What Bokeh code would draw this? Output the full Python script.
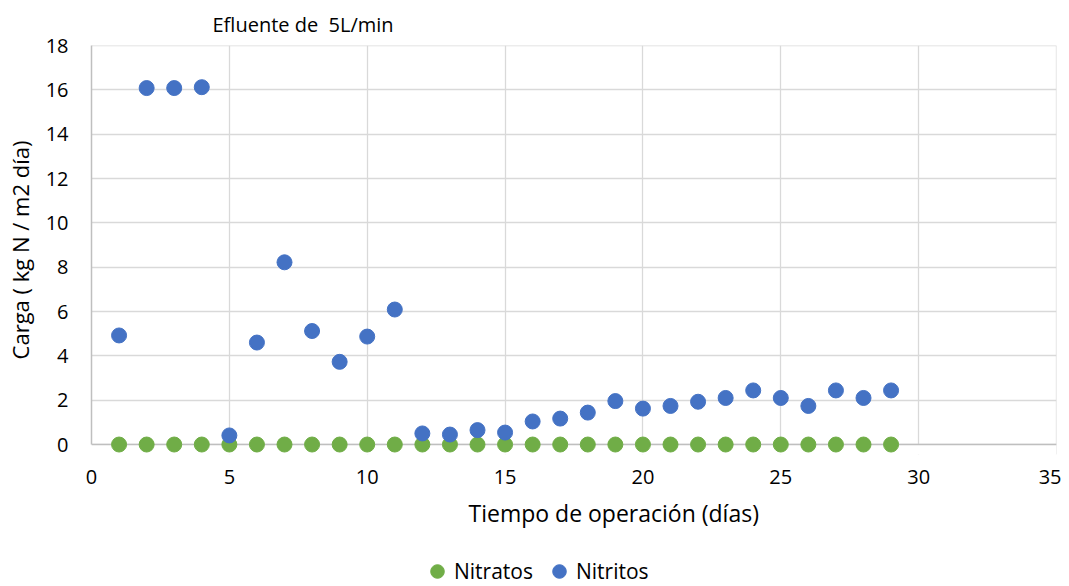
from bokeh.plotting import figure
from bokeh.models import (ColumnDataSource, Range1d, FixedTicker, Legend, LegendItem,
                          Title, Span, BoxAnnotation)
from bokeh.layouts import column
from bokeh.embed import file_html
from bokeh.resources import INLINE

dias = list(range(1, 30))
nitratos = [0.0] * 29
nitritos = [4.92, 16.08, 16.08, 16.12, 0.41, 4.6, 8.22, 5.12, 3.73, 4.87, 6.09,
            0.5, 0.45, 0.65, 0.54, 1.04, 1.17, 1.44, 1.96, 1.62, 1.74, 1.93,
            2.1, 2.44, 2.1, 1.74, 2.44, 2.1, 2.44]
x_ticks = [0, 5, 10, 15, 20, 25, 30, 35]
y_ticks = [0, 2, 4, 6, 8, 10, 12, 14, 16, 18]
x_max, y_max = 35, 18

FONT = "Open Sans"
GRID = "#D9D9D9"
AXIS = "#BFBFBF"
GREEN = "#70AD47"
BLUE = "#4472C4"

p = figure(width=1061, height=540, output_backend="svg", toolbar_location=None,
           x_range=Range1d(0, x_max), y_range=Range1d(-0.45, y_max),
           min_border_left=91, min_border_right=5, min_border_top=45, min_border_bottom=86,
           title="Efluente de \u00a05L/min")

p.title.text_font = FONT
p.title.text_font_size = "20px"
p.title.text_font_style = "normal"
p.title.align = "left"
p.title.offset = 121
p.title.text_color = "#000000"
p.title.standoff = 16

p.xaxis.ticker = FixedTicker(ticks=x_ticks)
p.yaxis.ticker = FixedTicker(ticks=y_ticks)
for ax in (p.xaxis[0], p.yaxis[0]):
    ax.major_tick_line_color = None
    ax.minor_tick_line_color = None
    ax.major_label_text_font = FONT
    ax.major_label_text_font_size = "20px"
    ax.major_label_text_color = "#000000"
    ax.axis_label_text_font = FONT
    ax.axis_label_text_font_style = "normal"
    ax.axis_label_text_color = "#000000"

p.xaxis.axis_line_color = None
p.xaxis.major_label_standoff = 9
p.yaxis.axis_line_color = AXIS
p.yaxis.axis_line_width = 1.5
p.yaxis.bounds = (0, y_max)
p.yaxis.axis_label = "Carga ( kg N / m2 día)"
p.yaxis.axis_label_text_font_size = "22px"
p.yaxis.major_label_standoff = 17
p.yaxis.axis_label_standoff = 8

p.xgrid.grid_line_color = GRID
p.ygrid.grid_line_color = GRID
p.xgrid.grid_line_width = 1.3
p.ygrid.grid_line_width = 1.3
p.outline_line_color = None

p.add_layout(Span(location=x_max, dimension="height", line_color=GRID, line_width=1.3, level="underlay"))
p.add_layout(Span(location=y_max, dimension="width", line_color=GRID, line_width=1.3, level="underlay"))
p.add_layout(BoxAnnotation(top=0, fill_color="white", fill_alpha=1, line_alpha=0, level="underlay"))
p.add_layout(Span(location=0, dimension="width", line_color=AXIS, line_width=1.5, level="underlay"))

src = ColumnDataSource(dict(x=dias, n3=nitratos, n2=nitritos))
r1 = p.scatter("x", "n3", source=src, size=15, color=GREEN)
r2 = p.scatter("x", "n2", source=src, size=15, color=BLUE)

xlabel = Title(text="Tiempo de operación (días)", align="left", offset=377,
               text_font=FONT, text_font_size="23px", text_font_style="normal",
               text_color="#000000", standoff=16)
p.add_layout(xlabel, "below")

# legend strip below the chart (same series, drawn out of view so only the legend shows)
q = figure(width=1061, height=46, output_backend="svg", toolbar_location=None,
           x_range=Range1d(-2, -1), y_range=Range1d(-2, -1),
           x_axis_type=None, y_axis_type=None,
           min_border_left=0, min_border_right=0, min_border_top=0, min_border_bottom=0)
q.grid.visible = False
q.outline_line_color = None
g1 = q.scatter("x", "n3", source=src, size=15, color=GREEN)
g2 = q.scatter("x", "n2", source=src, size=15, color=BLUE)
legend = Legend(items=[LegendItem(label="Nitratos", renderers=[g1]),
                       LegendItem(label="Nitritos", renderers=[g2])],
                orientation="horizontal", location=(329, -2),
                label_text_font=FONT, label_text_font_size="21px", label_text_color="#000000",
                glyph_width=34, glyph_height=34, label_standoff=-9, spacing=9,
                padding=0, margin=0, border_line_color=None, background_fill_alpha=0)
q.add_layout(legend, "center")

open("out.html", "w").write(file_html(column(p, q, spacing=0), INLINE))
